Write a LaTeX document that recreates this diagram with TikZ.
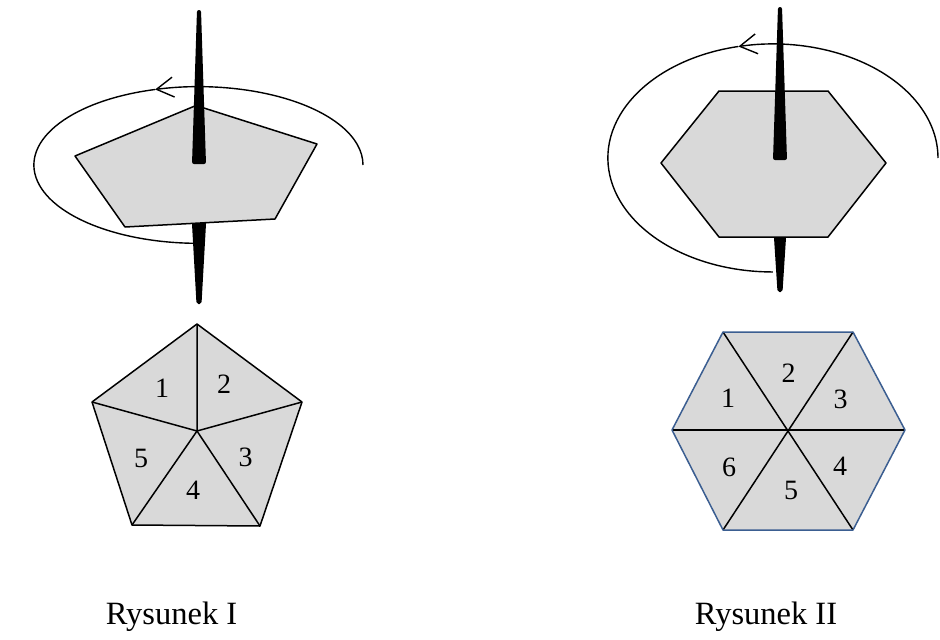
\documentclass[tikz,border=0pt]{standalone}
\usepackage{fontspec}
\setmainfont{Liberation Serif}
\usetikzlibrary{arrows.meta}
\definecolor{facegray}{RGB}{217,217,217}
\definecolor{edgeblue}{RGB}{59,94,145}
\tikzset{
    face/.style={draw=black, fill=facegray, line width=1.5pt, line join=round},
    spindle/.style={fill=black, rounded corners=2pt},
    orbit/.style={line width=1.4pt},
    barb/.style={-{Straight Barb[length=17pt, width=20pt, line width=1.4pt]}},
    num/.style={inner sep=0pt, font=\fontsize{28}{28}\selectfont},
    caption/.style={inner sep=0pt, anchor=base, font=\fontsize{32.5}{32.5}\selectfont}
}
\begin{document}
\begin{tikzpicture}[x=1pt, y=-1pt]
    \useasboundingbox (0,0) rectangle (940,640);
    % Rysunek I
    \draw[orbit, barb] (363,165) arc[start angle=0, end angle=-105.3, x radius=164.5, y radius=78.3];
    \draw[orbit] (155,89.5) arc[start angle=-105.3, end angle=-269, x radius=164.5, y radius=78.3];
    \fill[spindle] (191.5,215) -- (206.5,215) -- (201.5,304) -- (196.5,304) -- cycle;
    \draw[face] (196,105.5) -- (317,144) -- (275,219) -- (125,227) -- (75,156) -- cycle;
    \fill[spindle] (197,10) -- (201,10) -- (206,164) -- (192,164) -- cycle;
    % Rysunek II
    \draw[orbit, barb] (938,158) arc[start angle=0, end angle=-102.1, x radius=165, y radius=114];
    \draw[orbit] (738.3,46.5) arc[start angle=-102.1, end angle=-270, x radius=165, y radius=114];
    \fill[spindle] (773.5,230) -- (786.5,230) -- (782.5,292) -- (777.5,292) -- cycle;
    \draw[face] (719,91) -- (828,91) -- (886,163) -- (828,237) -- (719,237) -- (661,163) -- cycle;
    \fill[spindle] (778,7) -- (782,7) -- (787,160) -- (773,160) -- cycle;
    % pentagon
    \draw[face] (197,324) -- (302,402) -- (260,526) -- (132,525) -- (92,402) -- cycle;
    \draw[line width=1.5pt] (197,324) -- (197,431) -- (302,402);
    \draw[line width=1.5pt] (260,526) -- (197,431) -- (132,525);
    \draw[line width=1.5pt] (92,402) -- (197,431);
    \node[num] (p1) at (162,388) {1};
    \node[num] (p2) at (224,384) {2};
    \node[num] (p3) at (245.5,457) {3};
    \node[num] (p4) at (193,490.5) {4};
    \node[num] (p5) at (141,458) {5};
    % hexagon
    \fill[facegray] (723,332) -- (853,332) -- (905,430) -- (853,530) -- (723,530) -- (672,430) -- cycle;
    \draw[line width=1.5pt] (723,332) -- (853,530);
    \draw[line width=1.5pt] (853,332) -- (723,530);
    \draw[line width=1.5pt] (672,430) -- (905,430);
    \draw[edgeblue, line width=1.5pt, line join=round] (723,332) -- (853,332) -- (905,430) -- (853,530) -- (723,530) -- (672,430) -- cycle;
    \node[num] (h1) at (728,398.5) {1};
    \node[num] (h2) at (788.5,373) {2};
    \node[num] (h3) at (840.5,399) {3};
    \node[num] (h4) at (840,466) {4};
    \node[num] (h5) at (791,490.5) {5};
    \node[num] (h6) at (729,467) {6};
    % captions
    \node[caption] (capI) at (171.5,624) {Rysunek I};
    \node[caption] (capII) at (766,624) {Rysunek II};
\end{tikzpicture}
\end{document}
